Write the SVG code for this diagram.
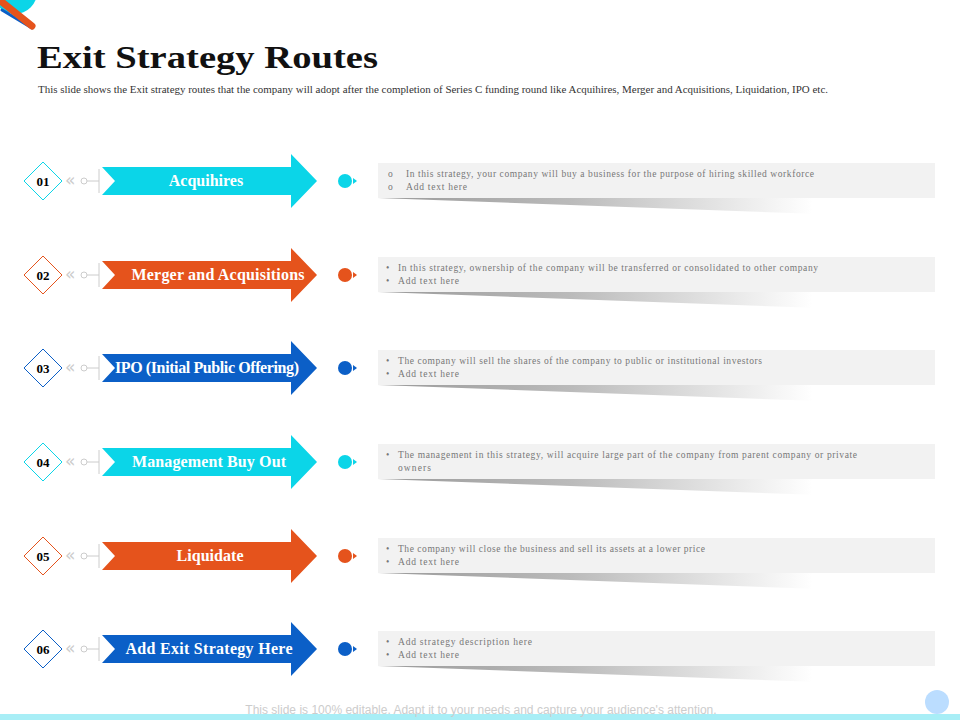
<svg xmlns="http://www.w3.org/2000/svg" width="960" height="720" viewBox="0 0 960 720">
<style>
.num{font-family:"Liberation Serif",serif;font-weight:bold;font-size:13px;text-anchor:middle}
.lab{font-family:"Liberation Serif",serif;font-weight:bold;font-size:16px;fill:#fff;text-anchor:middle}
.desc{font-family:"Liberation Serif",serif;font-size:9.5px;fill:#777}
.chev{font-family:"DejaVu Sans",sans-serif;font-size:17px;fill:#ccc}
.deco{stroke:#ccc;fill:none;stroke-width:1}
.box{fill:#f2f2f2}
</style>
<defs>
<linearGradient id="sh" x1="0" x2="1" y1="0" y2="0"><stop offset="0" stop-color="#999"/><stop offset="0.35" stop-color="#bbb"/><stop offset="0.78" stop-color="#fff"/></linearGradient>
<g id="arrow"><polygon points="102,-14 291,-14 291,-27 317,0 291,27 291,14 102,14 115,0"/></g>
<g id="side"><text class="chev" x="65" y="5">«</text><circle cx="84" cy="0" r="3" class="deco"/><line x1="87" y1="0" x2="99" y2="0" class="deco"/><line x1="99" y1="-12" x2="99" y2="12" class="deco"/></g>
<g id="boxbg"><polygon points="378,17 935,17 935,33 820,33" fill="url(#sh)"/><rect x="378" y="-18" width="557" height="35" class="box"/></g>
</defs>
<circle cx="15" cy="-8" r="22" fill="#0BD5E8"/>
<line x1="2" y1="10" x2="32" y2="28" stroke="#0B5FC7" stroke-width="3" stroke-linecap="round"/>
<line x1="2" y1="2" x2="32" y2="26" stroke="#E5531C" stroke-width="7" stroke-linecap="round"/>
<text x="37" y="68" font-family="Liberation Serif,serif" font-weight="bold" font-size="31" fill="#111" textLength="341" lengthAdjust="spacingAndGlyphs">Exit Strategy Routes</text>
<text x="38" y="93" font-family="Liberation Serif,serif" font-size="9.5" fill="#333" textLength="790" lengthAdjust="spacingAndGlyphs">This slide shows the Exit strategy routes that the company will adopt after the completion of Series C funding round like Acquihires, Merger and Acquisitions, Liquidation, IPO etc.</text>
<g id="connectors"></g>
<g id="node1" transform="translate(0,181)">
<polygon points="43,-19 62,0 43,19 24,0" fill="#fff" stroke="#0BD5E8"/><text class="num" x="43" y="5">01</text>
<use href="#side"/><use href="#arrow" fill="#0BD5E8"/><text class="lab" x="206" y="5">Acquihires</text>
<circle cx="345" cy="0" r="7" fill="#0BD5E8"/><polygon points="353,-3 357,0 353,3" fill="#0BD5E8"/>
<use href="#boxbg"/><text class="desc" x="388" y="-4">o</text><text class="desc" x="406" y="-4" textLength="408">In this strategy, your company will buy a business for the purpose of hiring skilled workforce</text><text class="desc" x="388" y="9">o</text><text class="desc" x="406" y="9" textLength="61">Add text here</text>
</g>
<g id="node2" transform="translate(0,275)">
<polygon points="43,-19 62,0 43,19 24,0" fill="#fff" stroke="#E5531C"/><text class="num" x="43" y="5">02</text>
<use href="#side"/><use href="#arrow" fill="#E5531C"/><text class="lab" x="218" y="5" textLength="173">Merger and Acquisitions</text>
<circle cx="345" cy="0" r="7" fill="#E5531C"/><polygon points="353,-3 357,0 353,3" fill="#E5531C"/>
<use href="#boxbg"/><text class="desc" x="386" y="-4">•</text><text class="desc" x="398" y="-4" textLength="420">In this strategy, ownership of the company will be transferred or consolidated to other company</text><text class="desc" x="386" y="9">•</text><text class="desc" x="398" y="9" textLength="61">Add text here</text>
</g>
<g id="node3" transform="translate(0,368)">
<polygon points="43,-19 62,0 43,19 24,0" fill="#fff" stroke="#0B5FC7"/><text class="num" x="43" y="5">03</text>
<use href="#side"/><use href="#arrow" fill="#0B5FC7"/><text class="lab" x="207" y="5" textLength="184">IPO (Initial Public Offering)</text>
<circle cx="345" cy="0" r="7" fill="#0B5FC7"/><polygon points="353,-3 357,0 353,3" fill="#0B5FC7"/>
<use href="#boxbg"/><text class="desc" x="386" y="-4">•</text><text class="desc" x="398" y="-4" textLength="364">The company will sell the shares of the company to public or institutional investors</text><text class="desc" x="386" y="9">•</text><text class="desc" x="398" y="9" textLength="61">Add text here</text>
</g>
<g id="node4" transform="translate(0,462)">
<polygon points="43,-19 62,0 43,19 24,0" fill="#fff" stroke="#0BD5E8"/><text class="num" x="43" y="5">04</text>
<use href="#side"/><use href="#arrow" fill="#0BD5E8"/><text class="lab" x="209" y="5" textLength="154">Management Buy Out</text>
<circle cx="345" cy="0" r="7" fill="#0BD5E8"/><polygon points="353,-3 357,0 353,3" fill="#0BD5E8"/>
<use href="#boxbg"/><text class="desc" x="386" y="-4">•</text><text class="desc" x="398" y="-4" textLength="459">The management in this strategy, will acquire large part of the company from parent company or private</text><text class="desc" x="398" y="9" textLength="33">owners</text>
</g>
<g id="node5" transform="translate(0,556)">
<polygon points="43,-19 62,0 43,19 24,0" fill="#fff" stroke="#E5531C"/><text class="num" x="43" y="5">05</text>
<use href="#side"/><use href="#arrow" fill="#E5531C"/><text class="lab" x="210" y="5" textLength="67">Liquidate</text>
<circle cx="345" cy="0" r="7" fill="#E5531C"/><polygon points="353,-3 357,0 353,3" fill="#E5531C"/>
<use href="#boxbg"/><text class="desc" x="386" y="-4">•</text><text class="desc" x="398" y="-4" textLength="307">The company will close the business and sell its assets at a lower price</text><text class="desc" x="386" y="9">•</text><text class="desc" x="398" y="9" textLength="61">Add text here</text>
</g>
<g id="node6" transform="translate(0,649)">
<polygon points="43,-19 62,0 43,19 24,0" fill="#fff" stroke="#0B5FC7"/><text class="num" x="43" y="5">06</text>
<use href="#side"/><use href="#arrow" fill="#0B5FC7"/><text class="lab" x="209" y="5" textLength="167">Add Exit Strategy Here</text>
<circle cx="345" cy="0" r="7" fill="#0B5FC7"/><polygon points="353,-3 357,0 353,3" fill="#0B5FC7"/>
<use href="#boxbg"/><text class="desc" x="386" y="-4">•</text><text class="desc" x="398" y="-4" textLength="134">Add strategy description here</text><text class="desc" x="386" y="9">•</text><text class="desc" x="398" y="9" textLength="61">Add text here</text>
</g>
<rect x="0" y="714" width="960" height="6" fill="#A8EEF6"/>
<circle cx="937" cy="702" r="12" fill="#BBDDFF"/>
<text x="481" y="714" font-family="Liberation Sans,sans-serif" font-size="12" fill="#ccc" text-anchor="middle">This slide is 100% editable. Adapt it to your needs and capture your audience's attention.</text>
</svg>
